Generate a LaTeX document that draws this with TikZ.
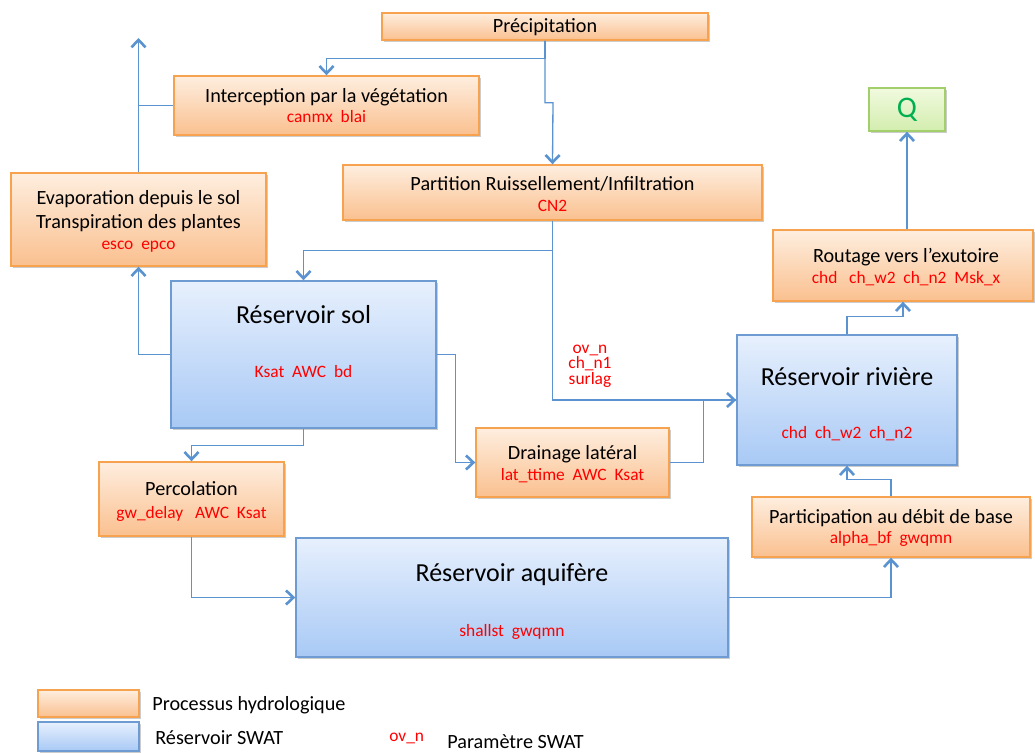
\documentclass[tikz,border=0pt]{standalone}
\usepackage{fontspec}
\setmainfont{Carlito}
\usetikzlibrary{arrows.meta,shadows,fit}
\definecolor{proctop}{HTML}{FEEEDF}
\definecolor{procbot}{HTML}{FAC08F}
\definecolor{procborder}{HTML}{F7A24E}
\definecolor{restop}{HTML}{E7F0FD}
\definecolor{resbot}{HTML}{A8C9F5}
\definecolor{resborder}{HTML}{6E9BD1}
\definecolor{qtop}{HTML}{F1FADF}
\definecolor{qbot}{HTML}{D3EDAE}
\definecolor{qborder}{HTML}{A3CF6A}
\definecolor{qtext}{HTML}{00B050}
\definecolor{connc}{HTML}{5B93D0}
\definecolor{parred}{HTML}{FF0000}
\tikzset{
  shad/.style={drop shadow={shadow xshift=1pt, shadow yshift=-1.2pt, opacity=0.2, fill=black}},
  proc/.style={draw=procborder, line width=0.8pt, top color=proctop, bottom color=procbot, inner sep=0pt, shad},
  res/.style={draw=resborder, line width=0.8pt, top color=restop, bottom color=resbot, inner sep=0pt, shad},
  qbox/.style={draw=qborder, line width=0.8pt, top color=qtop, bottom color=qbot, inner sep=0pt, shad},
  nt/.style={inner sep=0pt, font=\fontsize{11.5}{13.6}\selectfont, align=center},
  ttl/.style={inner sep=0pt, font=\fontsize{14.8}{17}\selectfont},
  prm/.style={inner sep=0pt, text=parred, font=\fontsize{9.9}{11}\selectfont, align=center},
  conn/.style={draw=connc, line width=0.75pt},
  arr/.style={conn, -{Straight Barb[length=4.2pt,width=8pt,line width=1.5pt]}},
}
\begin{document}
\begin{tikzpicture}[x=0.02cm,y=-0.02cm]
\useasboundingbox (0,0) rectangle (1035,753);

% boxes
\node[proc, fit={(382,13)(708,40)}] (prec) {};
\node[proc, fit={(174,76)(479,135)}] (interc) {};
\node[proc, fit={(11,173)(266,266)}] (evap) {};
\node[proc, fit={(343,165)(762,220)}] (part) {};
\node[qbox, fit={(869,88)(945,131)}] (Q) {};
\node[proc, fit={(773,230)(1033,301)}] (rout) {};
\node[res, fit={(171,281)(436,428)}] (sol) {};
\node[res, fit={(737,335)(957,465)}] (riv) {};
\node[proc, fit={(476,428)(669,497)}] (drain) {};
\node[proc, fit={(99,462)(284,536)}] (perc) {};
\node[proc, fit={(752,497)(1030,557)}] (base) {};
\node[res, fit={(296,538)(728,657)}] (aqui) {};
\node[proc, fit={(38,690)(139,717)}] (legp) {};
\node[res, fit={(38,722)(139,751)}] (legr) {};

% texts
\node[nt] (prect) at (545,27) {Précipitation};
\node[nt] (interct) at (326.5,97) {Interception par la végétation};
\node[prm] (intercp) at (326.5,117) {canmx\ \ blai};
\node[nt] (evapt) at (138.5,211) {Evaporation depuis le sol\\Transpiration des plantes};
\node[prm] (evapp) at (138.5,247) {esco\ \ epco};
\node[nt] (partt) at (552.5,184) {Partition Ruissellement/Infiltration};
\node[prm] (partp) at (552.5,206) {CN2};
\node[inner sep=0pt, text=qtext, font=\fontsize{17}{20}\selectfont] (Qt) at (907,110) {Q};
\node[nt] (routt) at (906,257) {Routage vers l’exutoire};
\node[prm] (routp) at (906,279) {chd\ \ \ ch\_w2\ \ ch\_n2\ \ Msk\_x};
\node[ttl] (solt) at (303.5,315) {Réservoir sol};
\node[prm] (solp) at (303.5,372) {Ksat\ \ AWC\ \ bd};
\node[ttl] (rivt) at (847,377) {Réservoir rivière};
\node[prm] (rivp) at (847,434) {chd\ \ ch\_w2\ \ ch\_n2};
\node[nt] (draint) at (572.5,454) {Drainage latéral};
\node[prm] (drainp) at (572.5,476) {lat\_ttime\ \ AWC\ \ Ksat};
\node[nt] (perct) at (191.5,489) {Percolation};
\node[prm] (percp) at (191.5,514) {gw\_delay\ \ \ AWC\ \ Ksat};
\node[nt] (baset) at (891,518) {Participation au débit de base};
\node[prm] (basep) at (891,539) {alpha\_bf\ \ gwqmn};
\node[ttl] (aquit) at (512,575) {Réservoir aquifère};
\node[prm] (aquip) at (512,632) {shallst\ \ gwqmn};
\node[prm, font=\fontsize{9.9}{8.8}\selectfont] (surf) at (590,366) {ov\_n\\ch\_n1\\surlag};

% legend texts
\node[nt, anchor=west] (legpt) at (152,705) {Processus hydrologique};
\node[nt, anchor=west] (legrt) at (155,738) {Réservoir SWAT};
\node[prm, anchor=west] (legov) at (389,738) {ov\_n};
\node[nt, anchor=west] (legovt) at (447,742) {Paramètre SWAT};

% connectors
\coordinate (atm) at (138.5,38);
\draw[arr] (prec.south) -- ++(0,18) -| (interc.north);
\draw[arr] (prec.south) -- ++(0,62) -- ++(8,0) -- (part.north);
\draw[arr] (evap.north) -- (atm);
\draw[conn] (interc.west) -- (interc.west -| evap.north);
\draw[arr] (sol.west) -| (evap.south);
\draw[arr] (part.south) -- ++(0,30) -| (sol.north);
\draw[arr] (part.south) |- (riv.west);
\draw[arr] (sol.east) -- ++(19,0) |- (drain.west);
\draw[conn] (drain.east) -- ++(34,0) |- (riv.west);
\draw[arr] (sol.south) -- ++(0,17) -| (perc.north);
\draw[arr] (perc.south) |- (aqui.west);
\draw[arr] (aqui.east) -| (base.south);
\draw[arr] (base.north) -- ++(0,-17) -| (riv.south);
\draw[arr] (riv.north) -- ++(0,-18) -| (rout.south);
\draw[arr] (Q.south |- rout.north) -- (Q.south);
\end{tikzpicture}
\end{document}
